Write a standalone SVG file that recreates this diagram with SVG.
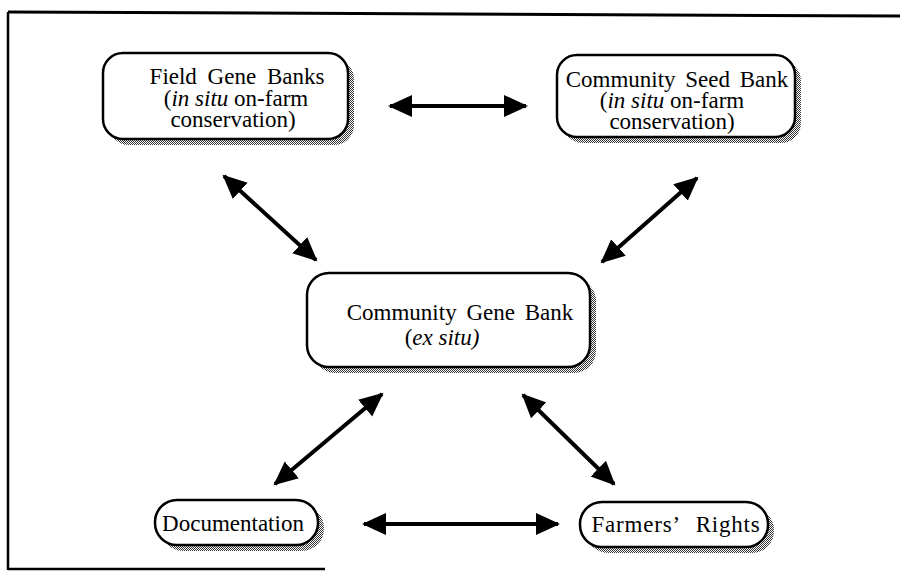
<svg xmlns="http://www.w3.org/2000/svg" width="900" height="579" viewBox="0 0 900 579">
<defs>
<pattern id="stip" width="2" height="2" patternUnits="userSpaceOnUse">
<rect width="2" height="2" fill="#fff"/>
<rect x="0" y="0" width="1" height="1" fill="#333"/>
<rect x="1" y="1" width="1" height="1" fill="#333"/>
</pattern>
<marker id="ah" markerUnits="userSpaceOnUse" markerWidth="26" markerHeight="24" refX="22" refY="11" orient="auto-start-reverse" viewBox="0 0 26 24">
<path d="M0,0 L24,11 L0,22 Z" fill="#000"/>
</marker>
<style>
.box{fill:#fff;stroke:#000;stroke-width:2.5}
.sh{fill:url(#stip);stroke:none}
.t{font-family:"Liberation Serif","Times New Roman",serif;font-size:23px;fill:#000;text-anchor:middle}
.i{font-style:italic}
.c{stroke:#000;stroke-width:4;fill:none;marker-start:url(#ah);marker-end:url(#ah)}
</style>
</defs>
<rect width="900" height="579" fill="#fff"/>
<g id="frame" stroke="#000" fill="none">
<path d="M8,12 L900,16" stroke-width="3"/>
<path d="M8,12 L8,570" stroke-width="2.5"/>
<path d="M8,569 L325,569" stroke-width="2.5"/>
</g>
<g id="connectors">
<path class="c" d="M390,106 L526,106"/>
<path class="c" d="M224,176 L316,260"/>
<path class="c" d="M697,178 L602,262"/>
<path class="c" d="M382,394 L275,484"/>
<path class="c" d="M523,395 L614,484"/>
<path class="c" d="M364,524 L558,524"/>
</g>
<g id="field-gene-banks">
<rect class="sh" x="109" y="59" width="245" height="86" rx="20"/>
<rect class="box" x="103" y="53" width="245" height="86" rx="20"/>
<text class="t" x="237" y="84" word-spacing="5">Field Gene Banks</text>
<text class="t" x="236" y="106">(<tspan class="i">in situ</tspan> on-farm</text>
<text class="t" x="233" y="127">conservation)</text>
</g>
<g id="community-seed-bank">
<rect class="sh" x="563" y="61" width="238" height="82" rx="20"/>
<rect class="box" x="557" y="55" width="238" height="82" rx="20"/>
<text class="t" x="677" y="87" word-spacing="4">Community Seed Bank</text>
<text class="t" x="672" y="108">(<tspan class="i">in situ</tspan> on-farm</text>
<text class="t" x="672" y="129">conservation)</text>
</g>
<g id="community-gene-bank">
<rect class="sh" x="313" y="279" width="283" height="94" rx="22"/>
<rect class="box" x="307" y="273" width="283" height="94" rx="22"/>
<text class="t" x="460" y="320" word-spacing="4">Community Gene Bank</text>
<text class="t" x="442" y="345">(<tspan class="i">ex situ)</tspan></text>
</g>
<g id="documentation">
<rect class="sh" x="161" y="506" width="163" height="45" rx="22"/>
<rect class="box" x="155" y="500" width="163" height="45" rx="22"/>
<text class="t" x="233" y="531">Documentation</text>
</g>
<g id="farmers-rights">
<rect class="sh" x="586" y="508" width="188" height="45" rx="22"/>
<rect class="box" x="580" y="502" width="188" height="45" rx="22"/>
<text class="t" x="676" y="532" word-spacing="10" letter-spacing="0.8">Farmers’ Rights</text>
</g>
</svg>
